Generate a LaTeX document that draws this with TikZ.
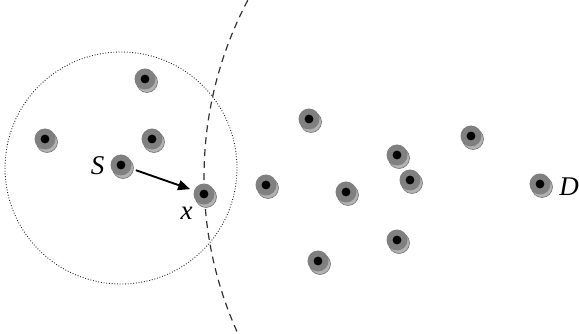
\documentclass[tikz,border=0pt]{standalone}
\usepackage{fontspec}
\setmainfont{Liberation Serif}
\usetikzlibrary{shadows,arrows.meta}
\tikzset{
  sensor/.style={circle, minimum size=21pt, inner sep=0pt, fill=black!50,
    drop shadow={shadow xshift=2pt, shadow yshift=-3pt, fill=black!30, draw=black!55, line width=0.6pt, opacity=1},
    path picture={\fill[black] (path picture bounding box.center) circle (4.4pt);}},
  lbl/.style={font=\fontsize{27}{30}\selectfont\itshape, inner sep=0pt},
  radiorange/.style={draw=black!85, line width=0.9pt, dash pattern=on 0.9pt off 1.8pt},
  front/.style={draw=black!80, line width=1.2pt, dash pattern=on 7pt off 5pt},
  hop/.style={-{Triangle[length=12pt,width=10pt]}, line width=1.9pt, shorten <=5pt, shorten >=4pt}
}
\begin{document}
\begin{tikzpicture}[x=1pt,y=-1pt]
\useasboundingbox (0,0) rectangle (579,334);
\draw[radiorange] (121,168) circle (116pt);
\coordinate (fc) at (583,177);
\draw[front] (fc) ++(152.2:379pt) arc[start angle=152.2, end angle=205.5, radius=379pt];
\node[sensor] (n1) at (145,79) {};
\node[sensor] (n2) at (45,139) {};
\node[sensor] (n3) at (152,139) {};
\node[sensor] (s) at (121,165) {};
\node[sensor] (x) at (204,194) {};
\node[sensor] (n4) at (266,185) {};
\node[sensor] (n5) at (309,119) {};
\node[sensor] (n6) at (397,155) {};
\node[sensor] (n7) at (471,136) {};
\node[sensor] (n8) at (410,180) {};
\node[sensor] (n9) at (346,192) {};
\node[sensor] (d) at (540,184) {};
\node[sensor] (n10) at (397,240) {};
\node[sensor] (n11) at (318,261) {};
\node[lbl] (ls) at (97.5,166) {S};
\node[lbl] (lx) at (186.5,213) {x};
\node[lbl] (ld) at (569,187) {D};
\draw[hop] (s) -- (x);
\end{tikzpicture}
\end{document}
